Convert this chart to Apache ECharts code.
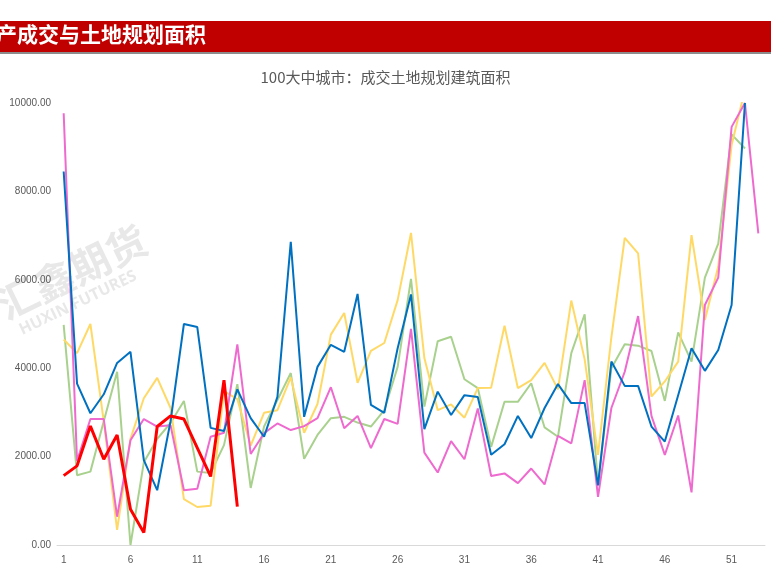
<!DOCTYPE html>
<html>
<head>
<meta charset="utf-8">
<script src="https://cdn.jsdelivr.net/npm/echarts@6/dist/echarts.min.js"></script>
<style>
  html, body { margin: 0; padding: 0; background: #fff; }
  #chart { width: 771px; height: 577px; }
</style>
</head>
<body>
<div id="chart"></div>
<script>
// 周序号
var weeks = ['1','2','3','4','5','6','7','8','9','10','11','12','13','14','15','16','17','18','19','20',
  '21','22','23','24','25','26','27','28','29','30','31','32','33','34','35','36','37','38','39','40',
  '41','42','43','44','45','46','47','48','49','50','51','52','53'];

// 各年度数据（万平方米）
var blueData = [8450,3650,2980,3410,4120,4370,1920,1240,2800,5000,4930,2650,2580,3520,2870,2450,3350,6860,2900,4030,
  4530,4370,5680,3170,2990,4450,5670,2620,3470,2940,3390,3350,2040,2280,2920,2420,3100,3640,3210,3210,
  1350,4150,3600,3600,2680,2340,3390,4450,3940,4410,5430,10000,null];
var yellowData = [4650,4340,5000,2800,340,2400,3320,3780,3100,1040,860,890,3480,3300,2250,2990,3050,3790,2540,3190,
  4760,5250,3670,4390,4570,5540,7060,4230,3050,3180,2880,3550,3560,4960,3550,3730,4120,3520,5530,4200,
  2040,4700,6950,6600,3360,3700,4150,7010,5090,6300,9050,10300,null];
var greenData = [4980,1580,1660,2800,3920,0,1870,2400,2760,3260,1660,1630,2260,3640,1290,2680,3280,3890,1950,2490,
  2870,2900,2770,2680,3050,4030,6020,3130,4610,4710,3750,3550,2220,3240,3240,3660,2660,2450,4340,5220,
  1360,4000,4540,4510,4390,3260,4810,4150,6050,6820,9290,8970,null];
var pinkData = [9770,1900,2850,2850,640,2370,2850,2680,2710,1240,1270,2450,2540,4540,2060,2530,2750,2600,2690,2870,
  3570,2640,2920,2190,2850,2740,4890,2090,1640,2350,1940,3090,1560,1620,1400,1730,1370,2470,2300,3730,
  1090,3100,3920,5180,2920,2040,2930,1190,5430,6050,9460,10000,7050];
var redData = [1570,1790,2690,1940,2490,810,280,2680,2920,2850,2200,1550,3730,870];

var myChart = echarts.init(document.getElementById('chart'));

function lineSeries(data, color, width) {
  return {
    type: 'line',
    data: data,
    symbol: 'none',
    connectNulls: false,
    lineStyle: { color: color, width: width },
    itemStyle: { color: color }
  };
}

var option = {
  animation: false,
  backgroundColor: '#fff',
  title: {
    text: '100大中城市：成交土地规划建筑面积',
    left: 'center',
    top: 65,
    textStyle: {
      fontFamily: 'Noto Sans CJK SC',
      fontSize: 15,
      fontWeight: 'normal',
      color: '#595959'
    }
  },
  graphic: [
    // 顶部红色标题栏
    { type: 'rect', left: 0, top: 21, shape: { width: 771, height: 31 }, style: { fill: '#C00000' } },
    { type: 'rect', left: 0, top: 52, shape: { width: 771, height: 2 }, style: { fill: '#8c8c8c' } },
    {
      type: 'text', left: -4, top: 24,
      style: { text: '产成交与土地规划面积', fill: '#fff', font: 'bold 21px "Noto Sans CJK SC"' }
    },
    // 水印
    {
      type: 'text', x: 72, y: 272, rotation: 0.45, z: -1,
      style: {
        text: '汇鑫期货', fill: 'rgba(190,190,190,0.35)', font: 'bold 40px "Noto Sans CJK SC"',
        align: 'center', verticalAlign: 'middle'
      }
    },
    {
      type: 'text', x: 78, y: 303, rotation: 0.45, z: -1,
      style: {
        text: 'HUXIN FUTURES', fill: 'rgba(190,190,190,0.35)', font: 'bold 16px "Open Sans"',
        align: 'center', verticalAlign: 'middle'
      }
    }
  ],
  grid: {
    left: 57,
    right: 6,
    top: 103,
    bottom: 32
  },
  xAxis: {
    type: 'category',
    data: weeks,
    boundaryGap: true,
    axisLine: { show: true, lineStyle: { color: '#d9d9d9', width: 1 } },
    axisTick: { show: false },
    axisLabel: {
      interval: 4,
      color: '#595959',
      fontSize: 10,
      fontFamily: 'Liberation Sans',
      margin: 10
    },
    splitLine: { show: false }
  },
  yAxis: {
    type: 'value',
    min: 0,
    max: 10000,
    interval: 2000,
    axisLine: { show: false },
    axisTick: { show: false },
    splitLine: { show: false },
    axisLabel: {
      color: '#595959',
      fontSize: 10,
      fontFamily: 'Liberation Sans',
      margin: 6,
      formatter: function (value) {
        return value.toFixed(2);
      }
    }
  },
  series: [
    lineSeries(greenData, '#A9D18E', 2),
    lineSeries(yellowData, '#FFD966', 2),
    lineSeries(pinkData, '#EE6ACF', 2),
    lineSeries(blueData, '#0070C0', 2),
    lineSeries(redData, '#FF0000', 3)
  ]
};

myChart.setOption(option);
</script>
</body>
</html>
